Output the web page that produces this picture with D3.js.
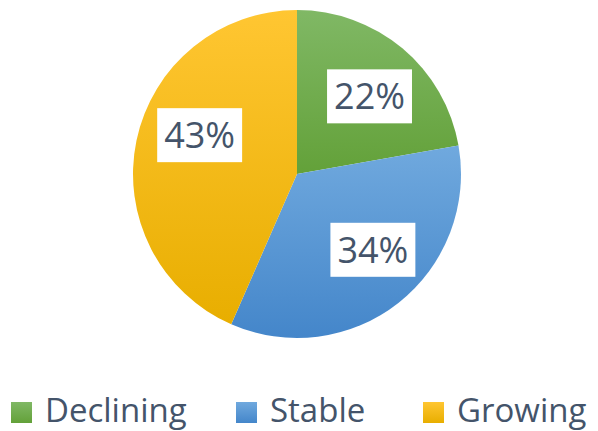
<!DOCTYPE html>
<html>
<head>
<meta charset="utf-8">
<script src="https://cdn.jsdelivr.net/npm/d3@7"></script>
<style>
  html, body { margin: 0; padding: 0; background: #fff; }
  svg { display: block; }
</style>
</head>
<body>
<svg id="chart" width="598" height="431"></svg>
<script>
// Share of items by trend
const categories = ["Declining", "Stable", "Growing"];
const values = [22, 34, 43];
const valueLabels = ["22%", "34%", "43%"];

// Slice fills: top and bottom stops of each vertical gradient
const topColors = ["#80b865", "#70a9de", "#ffc632"];
const bottomColors = ["#63a139", "#4486ca", "#e8ae00"];
const textColor = "#44546a";

const width = 598, height = 431;
const cx = 297, cy = 174, radius = 164;

const svg = d3.select("#chart");
const defs = svg.append("defs");

categories.forEach((c, i) => {
  const g = defs.append("linearGradient")
    .attr("id", "grad" + i)
    .attr("x1", 0).attr("y1", 0).attr("x2", 0).attr("y2", 1);
  g.append("stop").attr("offset", "0%").attr("stop-color", topColors[i]);
  g.append("stop").attr("offset", "100%").attr("stop-color", bottomColors[i]);
});

const data = categories.map((c, i) => ({ name: c, value: values[i], label: valueLabels[i], i }));

const pie = d3.pie().sort(null).value(d => d.value);
const arcs = pie(data);

const arc = d3.arc().innerRadius(0).outerRadius(radius);
const labelArc = d3.arc().innerRadius(radius * 0.65).outerRadius(radius * 0.65);

const g = svg.append("g").attr("transform", `translate(${cx},${cy})`);

g.selectAll("path.slice")
  .data(arcs)
  .join("path")
  .attr("class", "slice")
  .attr("d", arc)
  .attr("fill", d => `url(#grad${d.data.i})`);

// Small shifts that keep each label box clear of the slice edges
const labelNudge = [[4, 4], [10, -8], [7, -17]];

const labels = g.selectAll("g.label")
  .data(arcs)
  .join("g")
  .attr("class", "label")
  .attr("transform", d => {
    const [x, y] = labelArc.centroid(d);
    const [nx, ny] = labelNudge[d.data.i];
    return `translate(${x + nx},${y + ny})`;
  });

const rects = labels.append("rect").attr("fill", "#ffffff");
const texts = labels.append("text")
  .attr("text-anchor", "middle")
  .attr("y", 13)
  .attr("font-family", "'Open Sans', sans-serif")
  .attr("font-size", 36)
  .attr("fill", textColor)
  .text(d => d.data.label);

texts.each(function (d, i) {
  const w = this.getComputedTextLength();
  d3.select(rects.nodes()[i])
    .attr("x", -w / 2 - 7)
    .attr("y", -27)
    .attr("width", w + 14)
    .attr("height", 54);
});

// Legend along the bottom
const legendX = [11, 236, 423];
const legend = svg.append("g");
const items = legend.selectAll("g.item")
  .data(data)
  .join("g")
  .attr("class", "item")
  .attr("transform", d => `translate(${legendX[d.i]},0)`);

items.append("rect")
  .attr("x", 0).attr("y", 402)
  .attr("width", 21).attr("height", 21)
  .attr("fill", d => `url(#grad${d.i})`);

items.append("text")
  .attr("x", 34).attr("y", 422)
  .attr("font-family", "'Open Sans', sans-serif")
  .attr("font-size", 33)
  .attr("fill", textColor)
  .text(d => d.name);
</script>
</body>
</html>
